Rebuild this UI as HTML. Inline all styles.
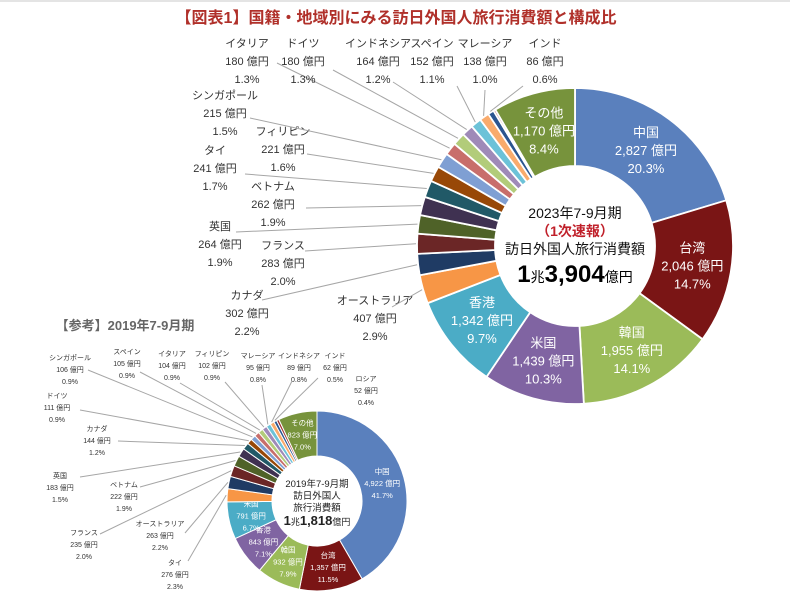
<!DOCTYPE html>
<html><head><meta charset="utf-8">
<style>
html,body{margin:0;padding:0;background:#fff;}
svg{display:block;font-family:"Liberation Sans","Noto Sans CJK JP",sans-serif;}
</style></head>
<body>
<svg id="chart" width="790" height="600" viewBox="0 0 790 600" xmlns="http://www.w3.org/2000/svg">
<rect x="0" y="0" width="790" height="600" fill="#fff"/>
<line x1="0" y1="1" x2="790" y2="1" stroke="#e4e4e4" stroke-width="2"/>
<text x="396" y="23" text-anchor="middle" font-size="16" font-weight="bold" fill="#b0302a">【図表1】国籍・地域別にみる訪日外国人旅行消費額と構成比</text>
<text x="125" y="330" text-anchor="middle" font-size="13" font-weight="bold" fill="#666">【参考】2019年7-9月期</text>
<g id="big"></g>
<g id="small"></g>
<g>
<text x="575" y="218" text-anchor="middle" font-size="14" fill="#111">2023年7-9月期</text>
<text x="575" y="236" text-anchor="middle" font-size="14" font-weight="bold" fill="#c0202a">（1次速報）</text>
<text x="575" y="254" text-anchor="middle" font-size="14" fill="#111">訪日外国人旅行消費額</text>
<text x="575" y="282" text-anchor="middle" fill="#000"><tspan font-size="24" font-weight="bold">1</tspan><tspan font-size="14">兆</tspan><tspan font-size="24" font-weight="bold">3,904</tspan><tspan font-size="14">億円</tspan></text>
</g>
<g>
<text x="317" y="487" text-anchor="middle" font-size="9.5" fill="#222">2019年7-9月期</text>
<text x="317" y="499" text-anchor="middle" font-size="9.5" fill="#222">訪日外国人</text>
<text x="317" y="511" text-anchor="middle" font-size="9.5" fill="#222">旅行消費額</text>
<text x="317" y="525" text-anchor="middle" fill="#222"><tspan font-size="13" font-weight="bold">1</tspan><tspan font-size="9">兆</tspan><tspan font-size="13" font-weight="bold">1,818</tspan><tspan font-size="9">億円</tspan></text>
</g>
</svg>
<script>
const cats23 = ["中国","台湾","韓国","米国","香港","オーストラリア","カナダ","フランス","英国","ベトナム","タイ","フィリピン","シンガポール","イタリア","ドイツ","インドネシア","スペイン","マレーシア","インド","ロシア","その他"];
const vals23 = [2827,2046,1955,1439,1342,407,302,283,264,262,241,221,215,180,180,164,152,138,86,30,1170];
const cats19 = ["中国","台湾","韓国","香港","米国","タイ","オーストラリア","フランス","ベトナム","英国","カナダ","ドイツ","シンガポール","スペイン","イタリア","フィリピン","マレーシア","インドネシア","インド","ロシア","その他"];
const vals19 = [4922,1357,932,843,791,276,263,235,222,183,144,111,106,105,104,102,95,89,62,52,823];
const palette = ["#5a80bd","#7a1515","#9bbb59","#8064a2","#4bacc6","#f79646","#1f3b64","#6b2626","#4f6228","#3f3151","#215967","#984807","#7f9fd3","#c86e6b","#b2cc7a","#9f8ab8","#6cc2d8","#f9ab6c","#2b5590","#a0302e","#77933c"];
const innerIdx = [0,1,2,3,4,20];

// layout for outside labels: x center, y first-line baseline, line step, anchor point
const layout23 = {
 "オーストラリア":[375,304,18,392,307],"カナダ":[247,299,18,262,300],"フランス":[283,249,18,305,251],
 "英国":[220,230,18,236,232],"ベトナム":[273,190,18,306,208],"タイ":[215,154,18,245,174],
 "フィリピン":[283,135,18,307,154],"シンガポール":[225,99,18,250,118],"イタリア":[247,47,18,277,63],
 "ドイツ":[303,47,18,333,70],"インドネシア":[378,47,18,393,82],"スペイン":[432,47,18,457,86],
 "マレーシア":[485,47,18,485,90],"インド":[545,47,18,523,86]
};
const layout19 = {
 "シンガポール":[70,360,12,88,370],"スペイン":[127,354,12,140,372],"イタリア":[172,356,12,180,383],
 "フィリピン":[212,356,12,225,382],"マレーシア":[258,358,12,262,385],"インドネシア":[299,358,12,292,381],
 "インド":[335,358,12,318,378],"ロシア":[366,381,12,null,null],"ドイツ":[57,398,12,80,410],
 "カナダ":[97,431,12,118,441],"英国":[60,478,12,80,477],"ベトナム":[124,487,12,140,487],
 "フランス":[84,535,12,100,534],"オーストラリア":[160,526,12,185,533],"タイ":[175,565,12,188,561]
};
const NS = "http://www.w3.org/2000/svg";
function pt(cx,cy,r,a){return [cx+r*Math.sin(a), cy-r*Math.cos(a)];}
function mk(tag, parent){const e=document.createElementNS(NS,tag);parent.appendChild(e);return e;}
function fmt(v){return v.toLocaleString("en-US");}
function donut(gid, cats, vals, cx, cy, R, r, layout, fsIn, stepIn, fsOut, pfx){
 const g=document.getElementById(gid);
 const total=vals.reduce((a,b)=>a+b,0);
 let a0=0;
 vals.forEach((v,i)=>{
  const a1=a0+v/total*2*Math.PI;
  const p1=pt(cx,cy,R,a0),p2=pt(cx,cy,R,a1),p3=pt(cx,cy,r,a1),p4=pt(cx,cy,r,a0);
  const lg=(a1-a0)>Math.PI?1:0;
  const path=mk("path",g);
  
  
  path.setAttribute("d",`M${p1[0]},${p1[1]} A${R},${R} 0 ${lg} 1 ${p2[0]},${p2[1]} L${p3[0]},${p3[1]} A${r},${r} 0 ${lg} 0 ${p4[0]},${p4[1]} Z`);
  path.setAttribute("fill",palette[i%palette.length]);
  path.setAttribute("stroke","#fff");
  path.setAttribute("stroke-width",R>120?"1.8":"1");
  const pct=(v/total*100).toFixed(1)+"%";
  const lines=[cats[i], fmt(v)+" 億円", pct];
  const mid=(a0+a1)/2;
  if(innerIdx.includes(i)){
   const c=pt(cx,cy,(R+r)/2,mid);
   lines.forEach((s,k)=>{
    const t=mk("text",g);
    
    
    t.setAttribute("x",c[0]);t.setAttribute("y",c[1]+(k-1)*stepIn+fsIn*0.35);
    t.setAttribute("text-anchor","middle");t.setAttribute("font-size",fsIn);t.setAttribute("fill","#fff");
    t.textContent=s;
   });
  } else if(layout[cats[i]]){
   const L=layout[cats[i]];
   lines.forEach((s,k)=>{
    const t=mk("text",g);
    
    
    t.setAttribute("x",L[0]);t.setAttribute("y",L[1]+k*L[2]);
    t.setAttribute("text-anchor","middle");t.setAttribute("font-size",fsOut);t.setAttribute("fill","#333");
    t.textContent=s;
   });
   if(L[3]!==null){
    const e=pt(cx,cy,R+1,mid);
    const ln=mk("line",g);
    
    
    ln.setAttribute("x1",L[3]);ln.setAttribute("y1",L[4]);ln.setAttribute("x2",e[0]);ln.setAttribute("y2",e[1]);
    ln.setAttribute("stroke","#a6a6a6");ln.setAttribute("stroke-width","1");
   }
  }
  a0=a1;
 });
}
donut("big",cats23,vals23,575,246,158,80,layout23,13,18,11,"2023");
donut("small",cats19,vals19,317,501,90,45,layout19,7.5,12,7,"2019");
</script>
</body></html>
